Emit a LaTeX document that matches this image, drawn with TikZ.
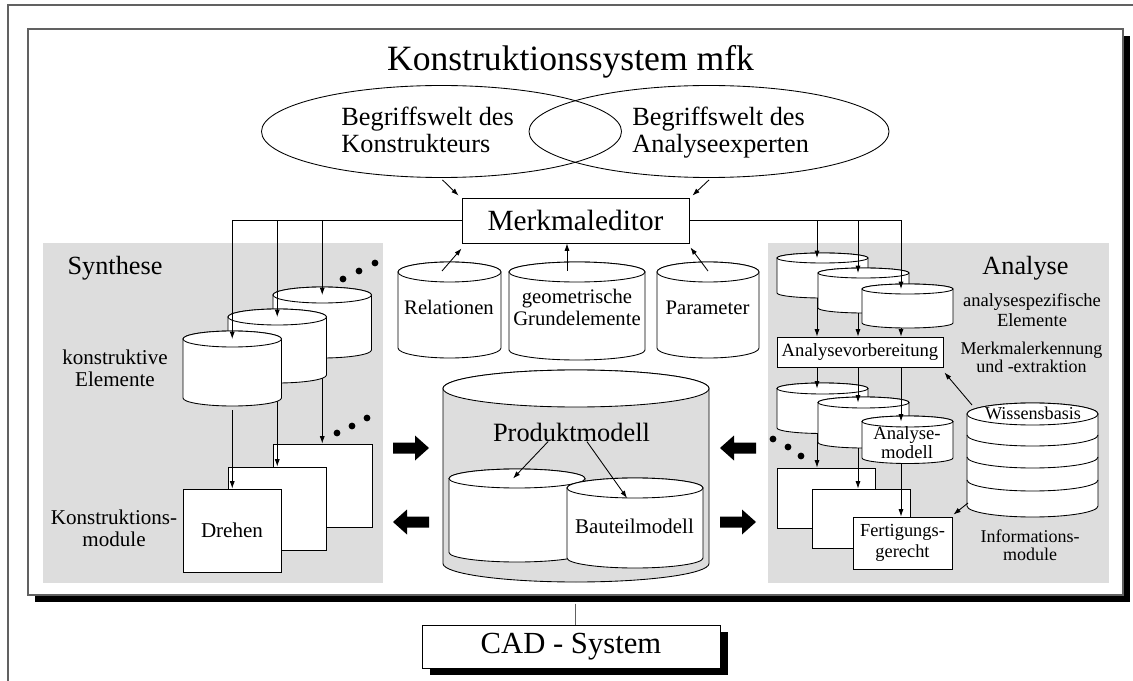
\documentclass[tikz,border=0pt]{standalone}
\usepackage{fontspec}
\setmainfont{Liberation Serif}
\usetikzlibrary{arrows.meta,calc,shapes.geometric,shadows}
\definecolor{panel}{gray}{0.865}
\definecolor{framegray}{gray}{0.38}
\newcommand\setfs[2]{\fontsize{#1}{#2}\selectfont}
% upright cylinder: name, left x, right x, top centre y, bottom centre y, y radius, body fill
\newcommand\drumcyl[7]{%
  \pgfmathsetmacro\cylcx{(#2+#3)/2}%
  \pgfmathsetmacro\cylrx{(#3-#2)/2}%
  \filldraw[fill=#7] (#2,-#4) -- (#2,-#5)
    arc[start angle=180,end angle=360,x radius=\cylrx,y radius=#6] -- (#3,-#4)
    arc[start angle=0,end angle=180,x radius=\cylrx,y radius=#6] -- cycle;
  \filldraw[fill=white] (\cylcx,-#4) ellipse[x radius=\cylrx,y radius=#6];
  \coordinate (#1-t) at (\cylcx,-#4);
  \coordinate (#1-b) at (\cylcx,-#5-#6);
  \coordinate (#1-w) at (#2,-#5);
}
\begin{document}
\begin{tikzpicture}[x=0.75pt,y=0.75pt,line width=0.65pt,
  arr/.style={-{Latex[length=5.5pt,width=3.8pt]}},
  lbl/.style={inner sep=0pt,align=center},
  rbox/.style 2 args={draw,fill=white,inner sep=0pt,minimum width=#1*0.75pt,minimum height=#2*0.75pt},
  fatarrow/.pic={\fill (-18,5.5) -- (4,5.5) -- (4,12.5) -- (18,0) -- (4,-12.5) -- (4,-5.5) -- (-18,-5.5) -- cycle;}
]
\useasboundingbox (0,0) rectangle (1133,-681);
\draw[framegray,line width=0.8pt] (8,-681) -- (8,-5) -- (1133,-5);

% system frame with its shadow
\node[draw=framegray,line width=0.8pt,fill=white,inner sep=0pt,
      minimum width=1095*0.75pt,minimum height=566*0.75pt,
      drop shadow={shadow xshift=5pt,shadow yshift=-5pt,opacity=1,fill=black}] (frame) at (575.5,-312) {};

% CAD system below
\node[rbox={298}{43},font=\setfs{23}{27},
      drop shadow={shadow xshift=6pt,shadow yshift=-5.6pt,opacity=1,fill=black}] (cad) at (571,-646.5) {CAD - System};
\draw[framegray] ($(frame.south)+(0,-8)$) -- (frame.south |- cad.north);

% title and the two vocabularies
\node[lbl,anchor=base,font=\setfs{26.7}{32}] (title) at (570.5,-71) {Konstruktionssystem mfk};
\node[draw,ellipse,inner sep=0pt,minimum width=360*0.75pt,minimum height=92*0.75pt] (bk) at (441.5,-131.5) {};
\node[draw,ellipse,inner sep=0pt,minimum width=360*0.75pt,minimum height=92*0.75pt] (ba) at (709,-131.5) {};
\node[lbl,align=left,anchor=west,font=\setfs{19.7}{19.5}] (bkt) at (341,-133.8) {\strut Begriffswelt des\\Konstrukteurs\strut};
\node[lbl,align=left,anchor=west,font=\setfs{19.7}{19.5}] (bat) at (632,-133.8) {\strut Begriffswelt des\\Analyseexperten\strut};

\node[rbox={227}{45},font=\setfs{22}{26}] (me) at (575.5,-220.5) {Merkmaleditor};
\draw[arr] ($(bk.south)+(1,-2)$) -- ($(me.north west)+(-3,2)$);
\draw[arr] ($(ba.south)+(0,-2)$) -- ($(me.north east)+(3,2)$);

% grey panels
\fill[panel] (43,-243) rectangle (383,-583);
\fill[panel] (768,-243) rectangle (1109,-583);

% ---------- Synthese ----------
\node[rbox={99}{83}] (sb3) at (322.5,-485.5) {};
\node[rbox={98}{83}] (sb2) at (277,-508.5) {};
\node[rbox={98}{83},font=\setfs{15.8}{19}] (sb1) at (232,-530.5) {Drehen};

\drumcyl{k3}{273}{371.5}{295}{350}{8}{white}
\draw[arr] (k3-b) -- (k3-b |- sb3.north);
\drumcyl{k2}{228}{326.5}{317}{375}{8}{white}
\draw[arr] (k2-b) -- (k2-b |- sb2.north);
\drumcyl{k1}{183}{281.5}{339}{398}{8}{white}
\draw[arr] ($(k1-b)+(0,-4)$) -- (k1-b |- sb1.north);

\draw[arr] (me.west) -| (k1-t);
\draw[arr] (me.west) -| (k2-t);
\draw[arr] (me.west) -| (k3-t);

\foreach \px/\py in {343/279,359/271,375/263,337/433,352/426,367/418}
  \fill (\px,-\py) circle (3.4);

\node[lbl,anchor=base,font=\setfs{19.7}{22}] (syn) at (115,-275) {Synthese};
\node[lbl,font=\setfs{15.8}{15}] (kel) at (115,-371) {\strut konstruktive\\Elemente\strut};
\node[lbl,font=\setfs{15.8}{15}] (kmod) at (114,-531) {\strut Konstruktions-\\module\strut};

% ---------- core elements ----------
\drumcyl{rel}{398}{501}{272}{348}{10}{white}
\drumcyl{geo}{509}{645}{272}{350}{10}{white}
\drumcyl{par}{657}{759}{272}{348}{10}{white}
\node[lbl,anchor=base,font=\setfs{15.5}{18}] (relt) at (449,-315) {Relationen};
\node[lbl,font=\setfs{15.5}{15}] (geot) at (577,-310) {\strut geometrische\\Grundelemente\strut};
\node[lbl,anchor=base,font=\setfs{15.5}{18}] (part) at (707.5,-315) {Parameter};
\draw[arr] ($(rel-t)+(-7.5,1)$) -- ($(me.south west)+(0,-5)$);
\draw[arr] ($(geo-t)+(-10,1)$) -- ($(me.south)+(-8.5,0)$);
\draw[arr] ($(par-t)+(0,1)$) -- ($(me.south east)+(1,-4)$);

% product model
\drumcyl{pm}{443}{709}{388.5}{563.5}{18.5}{panel}
\drumcyl{pml}{449}{585}{478.5}{552.5}{9.5}{white}
\drumcyl{pmr}{567}{703}{488}{558}{10}{white}
\node[lbl,anchor=base,font=\setfs{19.8}{23}] (pmt) at (571.5,-441) {Produktmodell};
\node[lbl,anchor=base,font=\setfs{15.7}{18}] (btm) at (634.5,-533) {Bauteilmodell};
\draw[arr] ($(pmt.south)+(-23.5,0)$) -- ($(pml-t)+(-4,0)$);
\draw[arr] ($(pmt.south)+(15.5,0)$) -- ($(pmr-t)+(-8,-10)$);

% data exchange arrows
\pic at (411,-448) {fatarrow};
\pic[rotate=180] at (411,-522) {fatarrow};
\pic[rotate=180] at (738,-448) {fatarrow};
\pic at (738,-522) {fatarrow};

% ---------- Analyse ----------
\drumcyl{at1}{777}{868}{258}{293}{5}{white}
\drumcyl{at2}{818}{909}{273}{308}{5}{white}
\drumcyl{at3}{862}{953}{289}{323}{5}{white}
\node[rbox={166}{30},font=\setfs{14}{17}] (av) at (860,-352) {Analysevorbereitung};
\drumcyl{al1}{777}{868}{388.5}{428}{5.5}{white}
\drumcyl{al2}{818}{909}{402.5}{442.5}{5.5}{white}
\drumcyl{al3}{862}{953}{421.5}{458}{5.5}{white}
\node[rbox={98}{60}] (ab1) at (826,-498) {};
\node[rbox={98}{59}] (ab2) at (861,-518.5) {};
\node[rbox={99}{52},align=center,font=\setfs{13.8}{15.5}] (ab3) at (902.5,-543) {\strut Fertigungs-\\gerecht\strut};

\drumcyl{wb}{967}{1098}{414}{506}{11}{white}
\foreach \yy in {435,457,480}
  \draw (967,-\yy) arc[start angle=180,end angle=360,x radius=65.5,y radius=11];

\node[lbl,anchor=base,font=\setfs{13.6}{16}] (wbt) at (1033,-419) {Wissensbasis};
\node[lbl,font=\setfs{14}{14.25}] (amt) at (907,-444.7) {\strut Analyse-\\modell\strut};
\node[lbl,anchor=base,font=\setfs{19.7}{22}] (ana) at (1025.5,-275) {Analyse};
\node[lbl,font=\setfs{13.9}{13.5}] (ase) at (1032,-312.4) {\strut analysespezifische\\Elemente\strut};
\node[lbl,font=\setfs{13.5}{13.5}] (mek) at (1031.5,-360.4) {\strut Merkmalerkennung\\und -extraktion\strut};
\node[lbl,font=\setfs{13.5}{13.5}] (inf) at (1030,-547.4) {\strut Informations-\\module\strut};

\coordinate (c1) at (817,0);
\coordinate (c2) at (858,0);
\coordinate (c3) at (901,0);
\draw[arr] (me.east) -| (c1 |- at1-t);
\draw[arr] (me.east) -| (c2 |- at2-t);
\draw[arr] (me.east) -| (c3 |- at3-t);
\draw[arr] (c1 |- at1-b) -- (c1 |- av.north);
\draw[arr] (c2 |- at2-b) -- (c2 |- av.north);
\draw[arr] (c3 |- at3-b) -- (c3 |- av.north);
\draw[arr] (c1 |- av.south) -- (c1 |- al1-t);
\draw[arr] (c2 |- av.south) -- (c2 |- al2-t);
\draw[arr] (c3 |- av.south) -- (c3 |- al3-t);
\draw[arr] (c1 |- al1-b) -- (c1 |- ab1.north);
\draw[arr] (c2 |- al2-b) -- (c2 |- ab2.north);
\draw[arr] (c3 |- al3-b) -- (c3 |- ab3.north);

\draw[arr] ($(wb-t)+(-60.5,9)$) -- ($(av.south east)+(1,-5)$);
\draw[arr] ($(wb-w)+(1,3)$) -- ($(ab3.north east)+(1,2)$);

\foreach \px/\py in {773/439,788/447,801/456}
  \fill (\px,-\py) circle (3.4);
\end{tikzpicture}
\end{document}
